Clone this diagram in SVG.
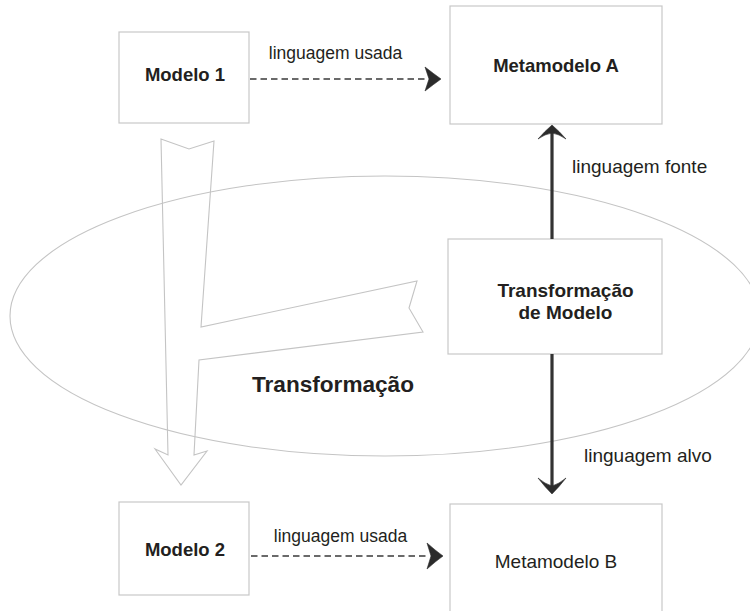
<svg xmlns="http://www.w3.org/2000/svg" width="750" height="611" viewBox="0 0 750 611">
  <style>
    .box { fill: #ffffff; stroke: #c8c8c8; stroke-width: 1.2; }
    .outline { fill: none; stroke: #c4c4c4; stroke-width: 1.1; }
    .t { font-family: "Liberation Sans", Arial, sans-serif; fill: #231f20; }
    .b { font-weight: bold; }
    .dash { fill: none; stroke: #3a3a3a; stroke-width: 1.7; stroke-dasharray: 6.5 4; }
    .solid { fill: none; stroke: #333333; stroke-width: 3.2; }
    .head { fill: #2b2b2b; stroke: #2b2b2b; stroke-width: 0.6; stroke-linejoin: round; }
  </style>

  <!-- scope of the transformation -->
  <g id="escopo">
    <ellipse class="outline" cx="385" cy="316" rx="375" ry="140"/>
  </g>

  <!-- large hollow L-shaped arrow: Modelo 1 -> Modelo 2, with branch to the transformation -->
  <g id="seta-transformacao">
    <path class="outline" d="M161,139 L189,149 L214,141 L201,327 L417,281 L409,308 L423,332 L199,360 L194,455 L207,451 L181,485 L155,449 L168,455 Z"/>
  </g>

  <g id="modelo1">
    <rect class="box" x="119" y="32" width="130" height="91"/>
    <text class="t b" x="185" y="81" font-size="18.5" text-anchor="middle">Modelo 1</text>
  </g>

  <g id="metamodeloA">
    <rect class="box" x="450" y="6" width="212" height="118"/>
    <text class="t b" x="556" y="72" font-size="18.5" text-anchor="middle">Metamodelo A</text>
  </g>

  <g id="transformacao-modelo">
    <rect class="box" x="448" y="239" width="214" height="115"/>
    <text class="t b" x="565.5" y="296.5" font-size="19" text-anchor="middle">Transformação</text>
    <text class="t b" x="565.5" y="318.5" font-size="19" text-anchor="middle">de Modelo</text>
  </g>

  <g id="modelo2">
    <rect class="box" x="119" y="502" width="130" height="93"/>
    <text class="t b" x="185" y="556" font-size="18.5" text-anchor="middle">Modelo 2</text>
  </g>

  <g id="metamodeloB">
    <rect class="box" x="450" y="504" width="212" height="120"/>
    <text class="t" x="556" y="568" font-size="19" text-anchor="middle">Metamodelo B</text>
  </g>

  <!-- connectors -->
  <g id="conectores">
    <!-- Modelo 1 -> Metamodelo A -->
    <line class="dash" x1="250" y1="79" x2="426" y2="79"/>
    <path class="head" d="M441,79 Q434,74 425,67 L429,79 L425,91 Q434,84 441,79 Z"/>
    <!-- Modelo 2 -> Metamodelo B -->
    <line class="dash" x1="251" y1="556" x2="428" y2="556"/>
    <path class="head" d="M443,556 Q436,551 427,543 L431,556 L427,569 Q436,561 443,556 Z"/>
    <!-- Transformação -> Metamodelo A (linguagem fonte) -->
    <line class="solid" x1="552" y1="239" x2="552" y2="132"/>
    <path class="head" d="M552,125 Q559,131 566,139 Q559,134 552,133 Q545,134 538,139 Q545,131 552,125 Z"/>
    <!-- Transformação -> Metamodelo B (linguagem alvo) -->
    <line class="solid" x1="552" y1="354" x2="552" y2="487"/>
    <path class="head" d="M552,494 Q559,487 566,478 Q559,484 552,486 Q545,484 538,478 Q545,487 552,494 Z"/>
  </g>

  <!-- labels -->
  <g id="rotulos">
    <text class="t" x="335.5" y="59" font-size="17.5" text-anchor="middle">linguagem usada</text>
    <text class="t" x="340.5" y="541.5" font-size="17.5" text-anchor="middle">linguagem usada</text>
    <text class="t" x="572" y="172.5" font-size="19">linguagem fonte</text>
    <text class="t" x="584" y="461.5" font-size="19">linguagem alvo</text>
    <text class="t b" x="252" y="391.5" font-size="22.6">Transformação</text>
  </g>
</svg>
